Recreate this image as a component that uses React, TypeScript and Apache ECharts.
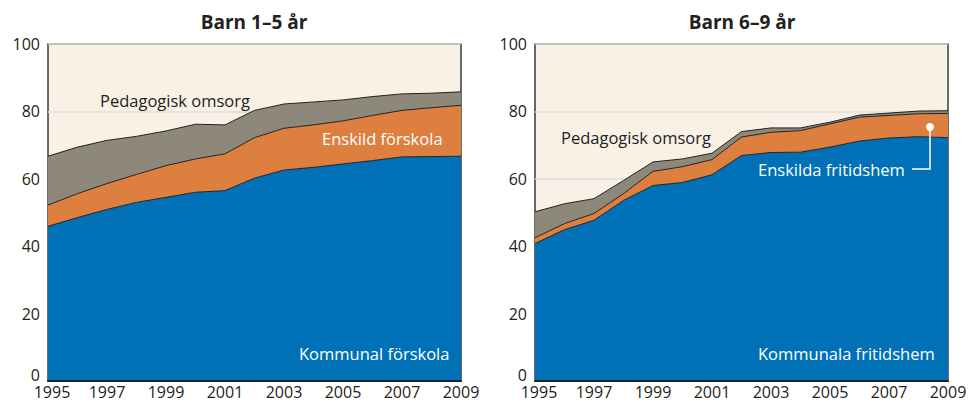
import React, { useEffect, useRef } from "react";
import * as echarts from "echarts";

const years = ["1995","1996","1997","1998","1999","2000","2001","2002","2003","2004","2005","2006","2007","2008","2009"];

// Barn 1–5 år (stacked shares, %)
const kommunalForskola = [45.9, 48.5, 50.9, 53.0, 54.5, 56.0, 56.5, 60.2, 62.6, 63.4, 64.4, 65.4, 66.5, 66.6, 66.7];
const enskildForskola = [6.3, 7.1, 7.7, 8.3, 9.4, 9.9, 10.9, 12.0, 12.4, 12.6, 12.8, 13.4, 13.8, 14.5, 15.1];
const pedagogiskOmsorg1 = [14.5, 13.8, 12.8, 11.3, 10.3, 10.3, 8.6, 8.1, 7.2, 6.8, 6.2, 5.6, 4.9, 4.3, 4.0];

// Barn 6–9 år (stacked shares, %)
const kommunalaFritidshem = [40.8, 44.9, 47.7, 53.6, 58.0, 58.9, 61.2, 66.9, 67.8, 67.9, 69.4, 71.2, 72.1, 72.5, 72.2];
const enskildaFritidshem = [1.7, 1.8, 2.0, 2.0, 4.2, 4.7, 4.5, 5.5, 6.0, 6.4, 6.9, 7.1, 6.7, 6.8, 7.2];
const pedagogiskOmsorg2 = [7.7, 5.9, 4.4, 3.9, 2.8, 2.3, 1.9, 1.6, 1.3, 0.8, 0.5, 0.6, 0.7, 0.8, 0.8];

const yTicks = [0, 20, 40, 60, 80, 100];

const BLUE = "#0071b7";
const ORANGE = "#dc7f3f";
const GRAY = "#8e887b";
const CREAM = "#f9f1e5";
const INK = "#222222";
const FONT = "'Open Sans', 'Noto Sans', sans-serif";

export default function App() {
  const ref = useRef<HTMLDivElement>(null);
  useEffect(() => {
    if (!ref.current) return;
    const chart = echarts.init(ref.current, null, { renderer: "svg" });

    const mkSeries = (name: string, data: number[], color: string, idx: number) => ({
      name,
      type: "line",
      xAxisIndex: idx,
      yAxisIndex: idx,
      stack: "s" + idx,
      data,
      showSymbol: false,
      symbol: "none",
      lineStyle: { color: INK, width: 1 },
      areaStyle: { color, opacity: 1 },
      z: 2,
    });

    const grids = [
      { left: 48, right: 510, top: 44, bottom: 21 },
      { left: 535, right: 23, top: 44, bottom: 21 },
    ].map((g) => ({
      ...g,
      show: true,
      backgroundColor: CREAM,
      borderColor: "#3a3a3a",
      borderWidth: 1.5,
      z: 0,
    }));

    const xAxes = [0, 1].map((i) => ({
      type: "category",
      gridIndex: i,
      data: years,
      boundaryGap: false,
      axisLine: { show: true, lineStyle: { color: INK, width: 2 } },
      axisTick: { show: false },
      axisLabel: {
        interval: 1,
        color: INK,
        fontSize: 16,
        lineHeight: 15,
        fontFamily: FONT,
        margin: 3,
        formatter: (v: string, idx: number) => (idx === 0 ? `{f|${v}}` : v),
        rich: { f: { fontSize: 16, lineHeight: 15, fontFamily: FONT, color: INK, padding: [0, 0, 0, 8] } },
      },
      splitLine: { show: false },
      z: 5,
    }));

    const yAxes = [0, 1].map((i) => ({
      type: "value",
      gridIndex: i,
      min: yTicks[0],
      max: yTicks[yTicks.length - 1],
      interval: 20,
      axisLine: { show: false },
      axisTick: { show: false },
      axisLabel: {
        color: INK,
        fontSize: 16,
        lineHeight: 14,
        fontFamily: FONT,
        margin: 8,
        formatter: (v: number) => (v === 0 ? "{z|0}" : String(v)),
        rich: { z: { fontSize: 16, lineHeight: 14, fontFamily: FONT, color: INK, padding: [0, 0, 12, 0] } },
      },
      splitLine: { show: true, lineStyle: { color: "#dcdcdc", width: 1.5 } },
    }));

    const txt = (text: string, x: number, y: number, fill: string, size = 16.5, weight = "normal", align = "left") => ({
      type: "text",
      x,
      y,
      z: 100,
      style: {
        text,
        fill,
        font: `${weight} ${size}px ${FONT}`,
        textAlign: align,
        textVerticalAlign: "middle",
      },
    });

    chart.setOption({
      animation: false,
      grid: grids,
      xAxis: xAxes,
      yAxis: yAxes,
      series: [
        mkSeries("Kommunal förskola", kommunalForskola, BLUE, 0),
        mkSeries("Enskild förskola", enskildForskola, ORANGE, 0),
        mkSeries("Pedagogisk omsorg", pedagogiskOmsorg1, GRAY, 0),
        mkSeries("Kommunala fritidshem", kommunalaFritidshem, BLUE, 1),
        mkSeries("Enskilda fritidshem", enskildaFritidshem, ORANGE, 1),
        mkSeries("Pedagogisk omsorg", pedagogiskOmsorg2, GRAY, 1),
      ],
      graphic: [
        txt("Barn 1–5 år", 254, 22, INK, 19, "bold", "center"),
        txt("Barn 6–9 år", 742, 22, INK, 19, "bold", "center"),
        txt("Pedagogisk omsorg", 100, 100, INK),
        txt("Enskild förskola", 322, 138, "#ffffff"),
        txt("Kommunal förskola", 299, 353, "#ffffff"),
        txt("Pedagogisk omsorg", 561, 137, INK),
        txt("Enskilda fritidshem", 758, 169, "#ffffff"),
        txt("Kommunala fritidshem", 758, 353, "#ffffff"),
        {
          type: "polyline",
          z: 100,
          shape: { points: [[912, 169], [930, 169], [930, 127]] },
          style: { stroke: "#ffffff", lineWidth: 1.5, fill: "none" },
        },
        {
          type: "circle",
          z: 100,
          shape: { cx: 930, cy: 127, r: 4 },
          style: { fill: "#ffffff" },
        },
      ],
    });
    return () => chart.dispose();
  }, []);
  return <div ref={ref} style={{ position: "absolute", left: 0, top: 0, width: 971, height: 402 }} />;
}
